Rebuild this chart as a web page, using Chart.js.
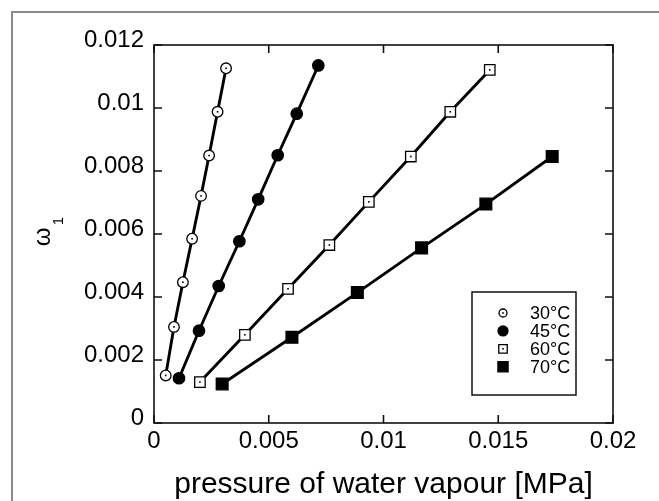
<!DOCTYPE html>
<html>
<head>
<meta charset="utf-8">
<script src="https://cdn.jsdelivr.net/npm/chart.js@4/dist/chart.umd.min.js"></script>
<style>
  html, body { margin: 0; padding: 0; background: #fff; }
  canvas { display: block; }
</style>
</head>
<body>
<canvas id="chart" width="659" height="501"></canvas>
<script>
// series: pressure [MPa] and omega_1
const seriesLabels = ['30°C', '45°C', '60°C', '70°C'];

const p30 = [0.00051, 0.00087, 0.00126, 0.00166, 0.00205, 0.0024, 0.00277, 0.00314];
const w30 = [0.00151, 0.00305, 0.00447, 0.00585, 0.00721, 0.00849, 0.00988, 0.01126];

const p45 = [0.00109, 0.00196, 0.00282, 0.00372, 0.00454, 0.00539, 0.00622, 0.00716];
const w45 = [0.00142, 0.00293, 0.00435, 0.00577, 0.0071, 0.0085, 0.00982, 0.01135];

const p60 = [0.002, 0.00396, 0.00584, 0.00764, 0.00936, 0.01119, 0.01291, 0.01463];
const w60 = [0.0013, 0.0028, 0.00426, 0.00565, 0.00702, 0.00846, 0.00988, 0.01121];

const p70 = [0.00297, 0.00601, 0.00886, 0.01166, 0.01446, 0.01735];
const w70 = [0.00124, 0.00272, 0.00414, 0.00556, 0.00695, 0.00846];

const xTicks = [0, 0.005, 0.01, 0.015, 0.02];
const xTickLabels = ['0', '0.005', '0.01', '0.015', '0.02'];
const yTicks = [0, 0.002, 0.004, 0.006, 0.008, 0.01, 0.012];
const yTickLabels = ['0', '0.002', '0.004', '0.006', '0.008', '0.01', '0.012'];

const xTitle = 'pressure of water vapour [MPa]';
const yTitle = 'ω';
const yTitleSub = '1';

const FONT = '"Liberation Sans", Arial, sans-serif';

function toPoints(xs, ys) {
  return xs.map((x, i) => ({ x: x, y: ys[i] }));
}

// marker looks, also used for the legend
const markers = [
  { style: 'circle', fill: '#fff', r: 5.3, lr: 4.0, dot: true },
  { style: 'circle', fill: '#000', r: 5.7, lr: 5.0, dot: false },
  { style: 'rect', fill: '#fff', r: 7.4, lr: 6.0, dot: true },
  { style: 'rect', fill: '#000', r: 8.3, lr: 7.2, dot: false }
];

const allData = [toPoints(p30, w30), toPoints(p45, w45), toPoints(p60, w60), toPoints(p70, w70)];

const datasets = allData.map((d, i) => ({
  label: seriesLabels[i],
  data: d,
  borderColor: '#000',
  borderWidth: 2.9,
  pointStyle: markers[i].style,
  pointRadius: markers[i].r,
  pointBackgroundColor: markers[i].fill,
  pointBorderColor: '#000',
  pointBorderWidth: 1.3,
  tension: 0
}));

function drawMarker(ctx, m, x, y, r) {
  ctx.beginPath();
  if (m.style === 'circle') {
    ctx.arc(x, y, r, 0, Math.PI * 2);
  } else {
    const s = r * Math.SQRT1_2;
    ctx.rect(x - s, y - s, 2 * s, 2 * s);
  }
  ctx.fillStyle = m.fill;
  ctx.fill();
  ctx.lineWidth = 1.3;
  ctx.strokeStyle = '#000';
  ctx.stroke();
  if (m.dot) {
    ctx.fillStyle = '#000';
    ctx.fillRect(x - 0.8, y - 0.8, 1.6, 1.6);
  }
}

const decor = {
  id: 'decor',
  beforeDraw(chart) {
    const ctx = chart.ctx;
    ctx.save();
    ctx.strokeStyle = '#8a8a8a';
    ctx.lineWidth = 2;
    ctx.strokeRect(12, 12, 700, 600);
    ctx.restore();
  },
  afterDraw(chart) {
    const ctx = chart.ctx;
    const a = chart.chartArea;
    const xs = chart.scales.x, ys = chart.scales.y;
    ctx.save();

    // dots inside the open markers
    chart.data.datasets.forEach((ds, i) => {
      if (!markers[i].dot) return;
      chart.getDatasetMeta(i).data.forEach(pt => {
        ctx.fillStyle = '#000';
        ctx.fillRect(pt.x - 0.8, pt.y - 0.8, 1.6, 1.6);
      });
    });

    // axes box
    ctx.strokeStyle = '#111';
    ctx.lineWidth = 1.6;
    ctx.strokeRect(a.left, a.top, a.right - a.left, a.bottom - a.top);

    // inward ticks on every side
    const tl = 8;
    ctx.beginPath();
    xTicks.forEach(v => {
      const px = xs.getPixelForValue(v);
      ctx.moveTo(px, a.bottom); ctx.lineTo(px, a.bottom - tl);
      ctx.moveTo(px, a.top); ctx.lineTo(px, a.top + tl);
    });
    yTicks.forEach(v => {
      const py = ys.getPixelForValue(v);
      ctx.moveTo(a.left, py); ctx.lineTo(a.left + tl, py);
      ctx.moveTo(a.right, py); ctx.lineTo(a.right - tl, py);
    });
    ctx.stroke();

    // legend
    const lx = 472, ly = 292, lw = 104, lh = 103;
    ctx.fillStyle = '#fff';
    ctx.fillRect(lx, ly, lw, lh);
    ctx.lineWidth = 1.5;
    ctx.strokeStyle = '#111';
    ctx.strokeRect(lx, ly, lw, lh);
    ctx.font = '18px ' + FONT;
    ctx.textBaseline = 'middle';
    ctx.textAlign = 'left';
    seriesLabels.forEach((lab, i) => {
      const y = 313 + i * 17.9;
      drawMarker(ctx, markers[i], 503, y, markers[i].lr);
      ctx.fillStyle = '#000';
      ctx.fillText(lab, 530, y + 1);
    });

    // x title
    ctx.font = '30px ' + FONT;
    ctx.textAlign = 'center';
    ctx.textBaseline = 'alphabetic';
    ctx.fillStyle = '#000';
    ctx.fillText(xTitle, (a.left + a.right) / 2, 493);

    // y title, rotated, with subscript
    ctx.translate(50, 237);
    ctx.rotate(-Math.PI / 2);
    ctx.font = '24px ' + FONT;
    ctx.fillText(yTitle, 0, 0);
    ctx.font = '15px ' + FONT;
    ctx.fillText(yTitleSub, 16, 13);

    ctx.restore();
  }
};

new Chart(document.getElementById('chart'), {
  type: 'line',
  data: { datasets: datasets },
  options: {
    responsive: false,
    animation: false,
    devicePixelRatio: 1,
    layout: { padding: { top: 45, right: 46, left: 0, bottom: 0 } },
    plugins: { legend: { display: false }, tooltip: { enabled: false } },
    scales: {
      x: {
        type: 'linear',
        min: 0,
        max: 0.02,
        afterBuildTicks: s => { s.ticks = xTicks.map(v => ({ value: v })); },
        afterFit: s => { s.height = 78; },
        grid: { display: false, drawTicks: false },
        border: { display: false },
        ticks: {
          color: '#000',
          font: { family: FONT, size: 24 },
          padding: 4,
          maxRotation: 0,
          autoSkip: false,
          callback: (v, i) => xTickLabels[i]
        }
      },
      y: {
        type: 'linear',
        min: 0,
        max: 0.012,
        afterBuildTicks: s => { s.ticks = yTicks.map(v => ({ value: v })); },
        afterFit: s => { s.width = 154; },
        grid: { display: false, drawTicks: false },
        border: { display: false },
        ticks: {
          color: '#000',
          font: { family: FONT, size: 24 },
          padding: 10,
          labelOffset: -5,
          autoSkip: false,
          callback: (v, i) => yTickLabels[i]
        }
      }
    }
  },
  plugins: [decor]
});
</script>
</body>
</html>
